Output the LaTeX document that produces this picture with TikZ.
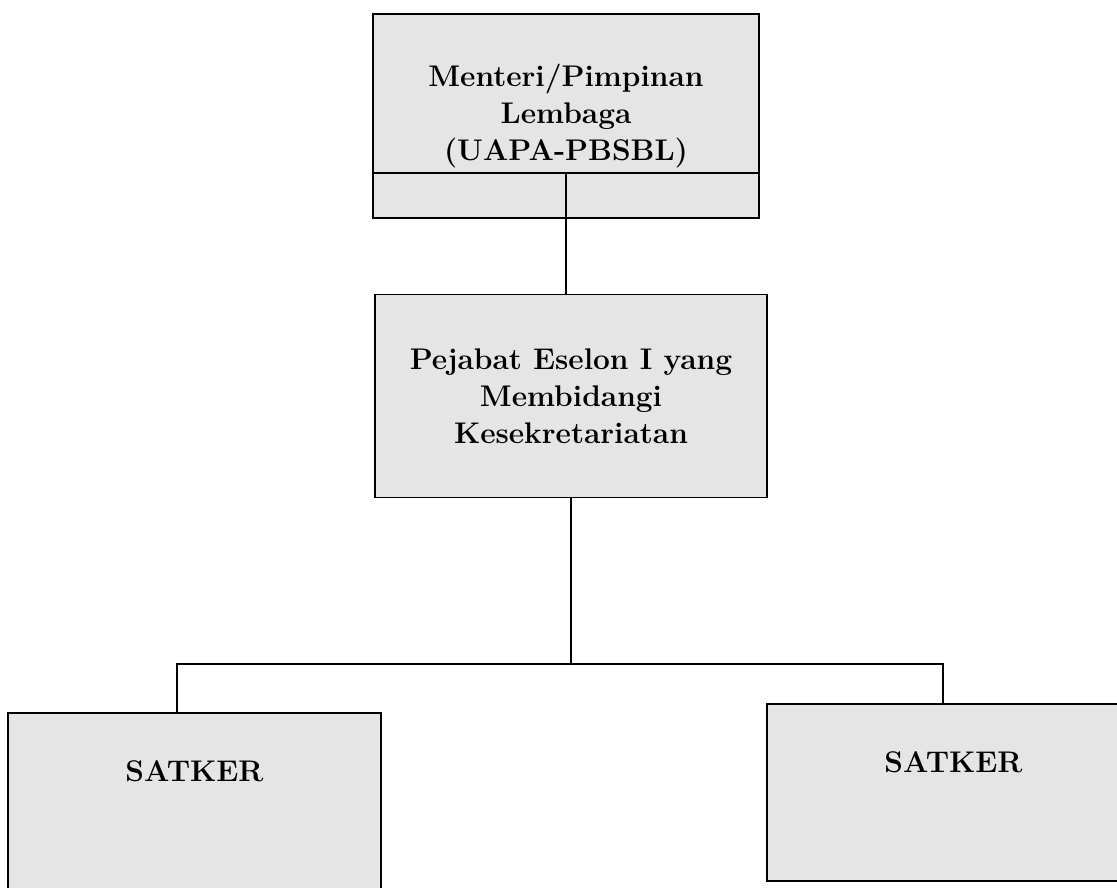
\documentclass[tikz,border=0pt]{standalone}
\usepackage{amsmath}
\usepackage{tikz}
\usetikzlibrary{positioning}

\begin{document}
\begin{tikzpicture}[x=0.02cm, y=-0.02cm,
    unitbox/.style={shape=rectangle,draw=black,fill=black!10,line width=1pt,inner sep=0pt,align=center,font=\fontsize{17}{21}\selectfont\bfseries},
    satkerbox/.style={unitbox,anchor=north,minimum width=7.46cm,text height=1.38cm,text depth=2.16cm}]
    \clip (0,0) rectangle (1117,887);

    \node[unitbox,minimum width=7.72cm,minimum height=4.08cm] (Menteri) at (566,116) {Menteri/Pimpinan\\Lembaga\\(UAPA-PBSBL)};
    \node[unitbox,minimum width=7.84cm,minimum height=4.06cm] (Pejabat) at (571,396) {Pejabat Eselon I yang\\Membidangi\\Kesekretariatan};
    \node[satkerbox] (SatkerA) at (194.5,712) {SATKER};
    \node[satkerbox] (SatkerB) at (953.5,703) {SATKER};

    \coordinate (split) at (566,173);
    \coordinate (busL) at (177,664);
    \coordinate (busR) at (943,664);

    \draw [line width=1pt] (split -| Menteri.west) -- (split -| Menteri.east);
    \draw [line width=0.8pt] (split) -- (split |- Pejabat.north);
    \draw [line width=0.8pt] (Pejabat.south) -- (Pejabat.south |- busL);
    \draw [line width=0.8pt] (busL |- SatkerA.north) -- (busL) -- (busR) -- (busR |- SatkerB.north);
\end{tikzpicture}
\end{document}
